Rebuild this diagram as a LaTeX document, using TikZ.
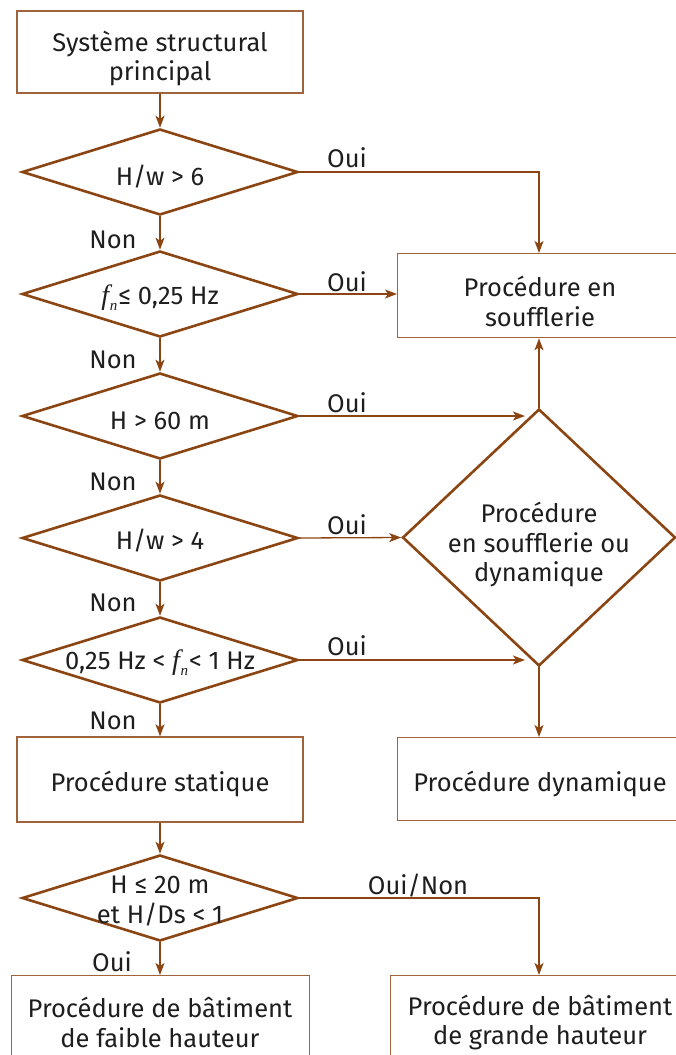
\documentclass[tikz,border=0pt]{standalone}
\usepackage{fontspec}
\setmainfont{Fira Sans}
\newfontfamily\tms{Liberation Serif}
\usetikzlibrary{shapes.geometric,arrows.meta,calc}
\definecolor{brn}{HTML}{8B4513}
\definecolor{boxc}{HTML}{A0643C}
\definecolor{txt}{HTML}{1E1E1E}
\newcommand{\fn}{{\tms\itshape\fontsize{28}{28}\selectfont f\kern0.03em\raisebox{-0.4ex}{\fontsize{15}{15}\selectfont n}}\kern0.04em}
\begin{document}
\begin{tikzpicture}[x=1pt,y=-1pt,
  every node/.style={text=txt,font=\fontsize{25.5}{29.5}\selectfont},
  box/.style={draw=boxc,line width=1.3pt,rectangle,inner sep=0pt},
  dia/.style={draw=brn,line width=2.6pt,diamond,inner sep=0pt,minimum width=276pt,minimum height=86pt},
  lbl/.style={inner sep=0pt,align=center},
  arr/.style={draw=brn,line width=1.3pt,-{Stealth[length=12pt,width=9pt,inset=3pt]}},
  ln/.style={draw=brn,line width=1.3pt}]
\useasboundingbox (0,0) rectangle (676,1055);
\clip (0,0) rectangle (676,1055);

\node[box,minimum width=286pt,minimum height=82pt] (b1) at (160,52) {};
\node[lbl] (tb1) at (160,58.5) {Système structural\\principal};
\node[dia] (d1) at (160,172) {};
\node[lbl] (t1) at (160,177) {H/w > 6};
\node[dia] (d2) at (160,294) {};
\node[lbl] (t2) at (160,298) {\fn≤ 0,25 Hz};
\node[dia] (d3) at (160,416) {};
\node[lbl] (t3) at (160,421) {H > 60 m};
\node[dia] (d4) at (160,538) {};
\node[lbl] (t4) at (160,541) {H/w > 4};
\node[dia] (d5) at (160,660) {};
\node[lbl] (t5) at (160,663) {0,25 Hz < \fn< 1 Hz};
\node[box,minimum width=286pt,minimum height=85pt] (bs) at (160,779.5) {};
\node[lbl] (ts) at (160,783.5) {Procédure statique};
\node[dia] (d6) at (160,898) {};
\node[lbl] (t6) at (160,901) {H ≤ 20 m\\et H/Ds < 1};
\node[box,minimum width=298pt,minimum height=100pt,anchor=north west] (bl) at (11,975) {};
\node[lbl] (tl) at (160,1022.5) {Procédure de bâtiment\\de faible hauteur};
\node[box,minimum width=300pt,minimum height=100pt,anchor=north west] (br) at (390,975) {};
\node[lbl] (tr) at (540,1022.5) {Procédure de bâtiment\\de grande hauteur};

\node[box,minimum width=300pt,minimum height=84pt,anchor=north west] (bw) at (397,253) {};
\node[lbl] (tw) at (540,301.5) {Procédure en\\soufflerie};
\node[draw=brn,line width=2.6pt,diamond,inner sep=0pt,minimum width=273pt,minimum height=257pt] (bd) at (539,537.5) {};
\node[lbl] (tbd) at (539,544.5) {Procédure\\en soufflerie ou\\dynamique};
\node[box,minimum width=300pt,minimum height=83pt,anchor=north west] (bdy) at (397,737) {};
\node[lbl] (tdy) at (540,783.5) {Procédure dynamique};

\coordinate (c3) at (525,416);
\coordinate (c5) at (525,660);

% vertical arrows on left
\draw[arr] (b1.south) -- (d1.north);
\draw[arr] (d1.south) -- (d2.north);
\draw[arr] (d2.south) -- (d3.north);
\draw[arr] (d3.south) -- (d4.north);
\draw[arr] (d4.south) -- (d5.north);
\draw[arr] (d5.south) -- (bs.north);
\draw[arr] (bs.south) -- (d6.north);
\draw[arr] (d6.south) -- (d6.south |- bl.north);

% right side
\draw[arr] (d1.east) -| (bw.north -| bd.north);
\draw[arr] (d2.east) -- (d2.east -| bw.west);
\draw[arr] (d3.east) -- (c3);
\draw[arr] (d4.east) -- (bd.west);
\draw[arr] (d5.east) -- (c5);
\draw[arr] (bd.north) -- (bd.north |- bw.south);
\draw[arr] (bd.south) -- (bd.south |- bdy.north);
\draw[arr] (d6.east) -| (br.north -| bd.south);

% labels
\node[lbl] (o1) at (347,158) {Oui};
\node[lbl] (o2) at (347,282) {Oui};
\node[lbl] (o3) at (347,403) {Oui};
\node[lbl] (o4) at (347,525) {Oui};
\node[lbl] (o5) at (347,646) {Oui};
\node[lbl] (o6) at (418,886) {Oui/Non};
\node[lbl] (o7) at (112,962) {Oui};
\node[lbl] (n1) at (113,240) {Non};
\node[lbl] (n2) at (113,360) {Non};
\node[lbl] (n3) at (113,482) {Non};
\node[lbl] (n4) at (113,603) {Non};
\node[lbl] (n5) at (113,721) {Non};
\end{tikzpicture}
\end{document}
